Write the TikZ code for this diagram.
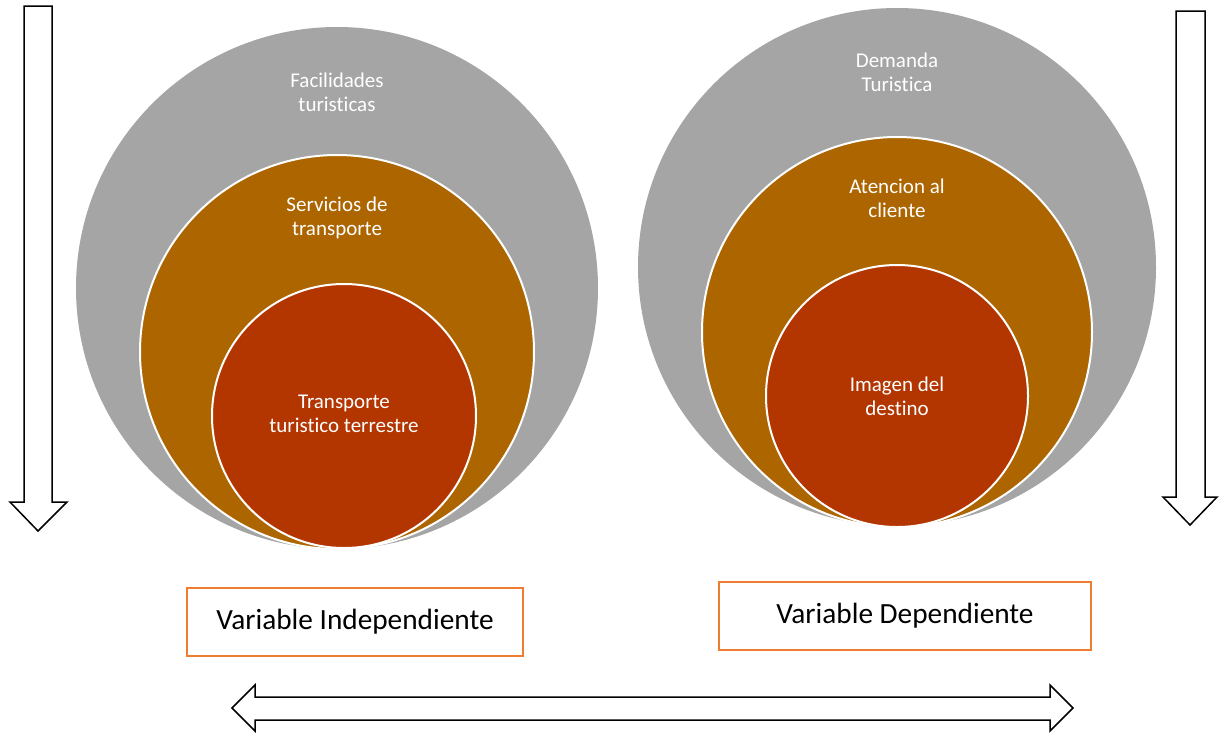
\documentclass[tikz,border=0pt]{standalone}
\usepackage{fontspec}
\setmainfont{Carlito}[RawFeature={-liga;-clig;-dlig}]
\usepackage{tikz}
\usetikzlibrary{positioning}

\definecolor{outergray}{RGB}{165,165,165}
\definecolor{midorange}{RGB}{173,101,0}
\definecolor{innerred}{RGB}{179,53,0}
\definecolor{boxorange}{RGB}{237,125,49}

\begin{document}
\begin{tikzpicture}[x=1pt,y=-1pt]
	\tikzstyle{ring}=[circle,inner sep=0pt,draw=white,line width=2pt]
	\tikzstyle{ringtext}=[align=center,text=white,font=\fontsize{21}{24}\selectfont]
	\tikzstyle{varbox}=[draw=boxorange,line width=2pt,fill=white,inner sep=0pt,font=\fontsize{29.3}{34}\selectfont]
	\tikzstyle{blockarrow}=[draw=black,fill=white,line width=1.5pt,line join=miter]
	\useasboundingbox (0,0) rectangle (1219,732);

	% independiente
	\node[ring,draw=none,fill=outergray,minimum size=522pt] (grayL) at (337,288) {};
	\node[ring,fill=midorange,minimum size=394pt] (orangeL) at (337,352) {};
	\node[ring,fill=innerred,minimum size=264pt] (redL) at (344,416) {};
	\node[ringtext] (facil) at (337,92) {Facilidades\\turisticas};
	\node[ringtext] (serv) at (337,218) {Servicios de\\transporte};
	\node[ringtext] (transp) at (344,414) {Transporte\\turistico terrestre};

	% dependiente
	\node[ring,draw=none,fill=outergray,minimum size=518pt] (grayR) at (897,267) {};
	\node[ring,fill=midorange,minimum size=390pt] (orangeR) at (897,332) {};
	\node[ring,fill=innerred,minimum size=262pt] (redR) at (897,396) {};
	\node[ringtext] (demanda) at (897,72) {Demanda\\Turistica};
	\node[ringtext] (atencion) at (897,198) {Atencion al\\cliente};
	\node[ringtext] (imagen) at (897,396) {Imagen del\\destino};

	\node[varbox,minimum width=336pt,minimum height=68pt] (indep) at (355,622) {Variable Independiente};
	\node[varbox,minimum width=372pt,minimum height=68pt] (dep) at (905,616) {Variable Dependiente};

	\draw[blockarrow] (24,6) -- (52,6) -- (52,502) -- (67,502) -- (38,531) -- (10,502) -- (24,502) -- cycle;
	\draw[blockarrow] (1176,11) -- (1205,11) -- (1205,497) -- (1217,497) -- (1190,525) -- (1163,497) -- (1176,497) -- cycle;
	\draw[blockarrow] (232,708) -- (255,685) -- (255,697) -- (1050,697) -- (1050,685) -- (1073,708)
		-- (1050,731) -- (1050,720) -- (255,720) -- (255,731) -- cycle;
\end{tikzpicture}
\end{document}
